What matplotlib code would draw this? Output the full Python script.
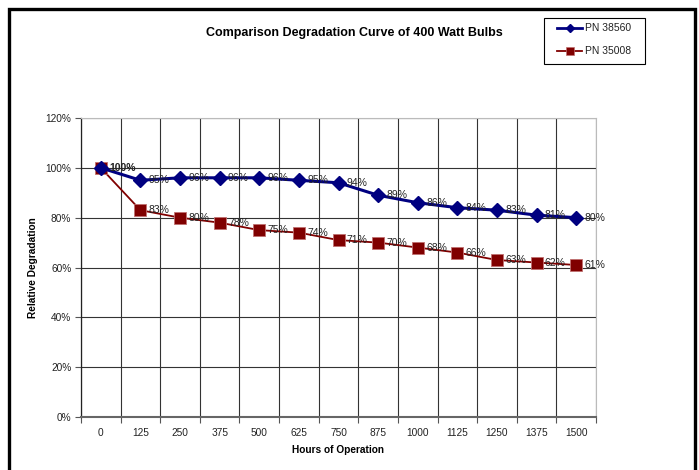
import matplotlib
matplotlib.use("Agg")
import matplotlib.pyplot as plt
from matplotlib.patches import Rectangle
from matplotlib.lines import Line2D
from matplotlib.ticker import FixedLocator, FuncFormatter

plt.rcParams['font.family'] = ['Liberation Sans', 'DejaVu Sans']

hours = ["0", "125", "250", "375", "500", "625", "750", "875", "1000", "1125", "1250", "1375", "1500"]
pn_38560 = [100, 95, 96, 96, 96, 95, 94, 89, 86, 84, 83, 81, 80]
pn_35008 = [100, 83, 80, 78, 75, 74, 71, 70, 68, 66, 63, 62, 61]
series_names = ["PN 38560", "PN 35008"]
y_ticks = [0, 20, 40, 60, 80, 100, 120]

W, H = 699, 470
fig = plt.figure(figsize=(W / 100, H / 100), dpi=100)
fig.patch.set_facecolor('white')

ax = fig.add_axes([81 / W, 1 - 417 / H, (596 - 81) / W, (417 - 118) / H])
x = list(range(len(hours)))

blue = '#000080'
red = '#800000'

ax.plot(x, pn_38560, color=blue, lw=2.2, marker='D', ms=7.5, mfc=blue, mec=blue,
        label=series_names[0], zorder=4)
ax.plot(x, pn_35008, color=red, lw=1.3, marker='s', ms=8, mfc=red, mec='#c07070', mew=0.6,
        label=series_names[1], zorder=3)

for i, v in enumerate(pn_38560):
    ax.annotate(f"{v}%", (x[i], v), xytext=(6, 0), textcoords='offset points',
                ha='left', va='center', fontsize=7.5, color='#222222', zorder=6,
                fontweight='bold' if i == 0 else 'normal')
for i, v in enumerate(pn_35008):
    if i == 0:
        continue
    ax.annotate(f"{v}%", (x[i], v), xytext=(6, 0), textcoords='offset points',
                ha='left', va='center', fontsize=7.5, color='#222222', zorder=6)

ax.set_xlim(-0.5, len(hours) - 0.5)
ax.set_ylim(0, 120)
ax.set_xticks(x)
ax.set_xticklabels(hours)
ax.xaxis.set_minor_locator(FixedLocator([i - 0.5 for i in range(len(hours) + 1)]))
ax.tick_params(axis='x', which='major', length=0, labelsize=7.3, pad=8, colors='#222222')
ax.tick_params(axis='x', which='minor', length=4, direction='out', width=0.8, color='#555555')
ax.set_yticks(y_ticks)
ax.yaxis.set_major_formatter(FuncFormatter(lambda v, p: f"{int(v)}%"))
ax.tick_params(axis='y', length=4, direction='out', width=0.8, labelsize=7.3, pad=3,
               color='#555555', labelcolor='#222222')

ax.grid(True, axis='y', which='major', color='#333333', lw=0.8, zorder=0)
ax.grid(True, axis='x', which='minor', color='#333333', lw=0.8, zorder=0)
ax.grid(False, axis='x', which='major')
ax.set_axisbelow(True)

for s in ['top', 'right']:
    ax.spines[s].set_color('#bbbbbb')
    ax.spines[s].set_linewidth(0.8)
ax.spines['left'].set_color('#222222')
ax.spines['left'].set_linewidth(0.9)
ax.spines['bottom'].set_color('#666666')
ax.spines['bottom'].set_linewidth(1.5)

ax.set_xlabel("Hours of Operation", fontsize=7.3, fontweight='bold', labelpad=5)
fig.text(33 / W, 1 - 268 / H, "Relative Degradation", rotation=90, ha='center', va='center',
         fontsize=7.3, fontweight='bold')

fig.text(354 / W, 1 - 33 / H, "Comparison Degradation Curve of 400 Watt Bulbs",
         ha='center', va='center', fontsize=9, fontweight='bold')

# legend box drawn in figure pixels
def fx(px):
    return px / W

def fy(py):
    return 1 - py / H

fig.patches.append(Rectangle((fx(544), fy(64)), fx(645) - fx(544), fy(18) - fy(64),
                             transform=fig.transFigure, facecolor='white',
                             edgecolor='black', lw=0.8, zorder=5))
line_styles = [dict(color=blue, lw=2.0), dict(color=red, lw=1.3)]
marker_styles = [
    dict(marker='D', ms=4.5, mfc=blue, mec=blue, linestyle='none'),
    dict(marker='s', ms=6, mfc=red, mec='#c07070', mew=0.5, linestyle='none'),
]
for k, name in enumerate(series_names):
    yy = fy(28 + 23 * k)
    fig.add_artist(Line2D([fx(557), fx(582)], [yy, yy], transform=fig.transFigure,
                          zorder=6, **line_styles[k]))
    fig.add_artist(Line2D([fx(569.5)], [yy], transform=fig.transFigure, zorder=6,
                          **marker_styles[k]))
    fig.text(fx(585), yy, name, ha='left', va='center', fontsize=7.5, color='#222222',
             zorder=7)

fig.patches.append(Rectangle((9 / W, -0.1), (695 - 9) / W, 1.1 - 9 / H, transform=fig.transFigure,
                             fill=False, edgecolor='black', lw=2.4))

fig.savefig("out.png", dpi=100)
